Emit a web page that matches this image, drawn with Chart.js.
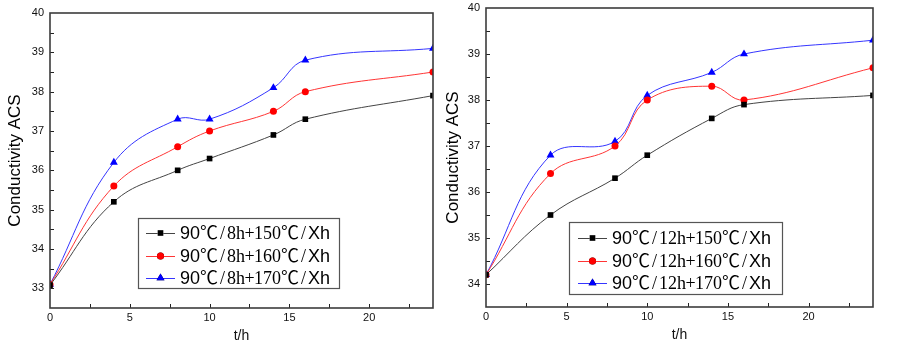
<!DOCTYPE html>
<html><head><meta charset="utf-8">
<script src="https://cdn.jsdelivr.net/npm/chart.js@4"></script>
<style>
html,body{margin:0;padding:0;background:#fff;}
#wrap{position:relative;width:903px;height:345px;overflow:hidden;background:#fff;}
.c{position:absolute;top:0;height:345px;}
</style></head><body>
<div id="wrap">
<div class="c" style="left:0;width:440px;"><canvas id="c1"></canvas></div>
<div class="c" style="left:440px;width:463px;"><canvas id="c2"></canvas></div>
</div>
<script>
// ---- data ----
const hours = [0, 4, 8, 10, 14, 16, 24];
const left150 = [33.08, 35.2, 36.0, 36.3, 36.9, 37.3, 37.9];
const left160 = [33.1, 35.6, 36.6, 37.0, 37.5, 38.0, 38.5];
const left170 = [33.1, 36.2, 37.3, 37.3, 38.1, 38.8, 39.1];
const right150 = [34.2, 35.5, 36.3, 36.8, 37.6, 37.9, 38.1];
const right160 = [34.2, 36.4, 37.0, 38.0, 38.3, 38.0, 38.7];
const right170 = [34.2, 36.8, 37.1, 38.1, 38.6, 39.0, 39.3];
const leftLabels = ['90℃/8h+150℃/Xh', '90℃/8h+160℃/Xh', '90℃/8h+170℃/Xh'];
const rightLabels = ['90℃/12h+150℃/Xh', '90℃/12h+160℃/Xh', '90℃/12h+170℃/Xh'];
const xTickLabels = [0, 5, 10, 15, 20];
const leftYTickLabels = [33, 34, 35, 36, 37, 38, 39, 40];
const rightYTickLabels = [34, 35, 36, 37, 38, 39, 40];
const xTitle = 't/h';
const yTitle = 'Conductivity ACS';

const lineColors = ['#444444', '#ff3535', '#3535ff'];
const markColors = ['#000000', '#ff0000', '#0000ff'];
const markStyles = ['rect', 'circle', 'triangle'];
const markRadius = [4, 3.5, 4.6];

const SANS = '"Liberation Sans", Arial, sans-serif';
const SERIF = '"Liberation Serif", "Noto Sans CJK SC", serif';

// inward ticks + boxed legend plugin
const decor = {
  id: 'decor',
  afterDatasetsDraw(chart, args, opts) {
    const ctx = chart.ctx, a = chart.chartArea;
    const xs = chart.scales.x, ys = chart.scales.y;
    ctx.save();
    ctx.strokeStyle = '#222';
    ctx.lineWidth = 1;
    ctx.beginPath();
    for (let v = xs.min + 2.5; v <= xs.max - 0.5; v += 2.5) {
      const px = Math.round(xs.getPixelForValue(v)) + 0.5;
      ctx.moveTo(px, a.bottom); ctx.lineTo(px, a.bottom - 4);
    }
    for (let v = ys.min + 0.5; v <= ys.max - 0.25; v += 0.5) {
      const py = Math.round(ys.getPixelForValue(v)) + 0.5;
      ctx.moveTo(a.left, py); ctx.lineTo(a.left + 4, py);
    }
    ctx.stroke();
    // frame
    ctx.strokeStyle = '#3c3c3c';
    ctx.lineWidth = 1.6;
    ctx.strokeRect(a.left, a.top, a.right - a.left, a.bottom - a.top);

    // legend
    const L = opts.box;
    ctx.fillStyle = '#fff';
    ctx.fillRect(L.x, L.y, L.w, L.h);
    ctx.strokeStyle = '#555';
    ctx.lineWidth = 1.2;
    ctx.strokeRect(L.x + 0.5, L.y + 0.5, L.w, L.h);
    chart.data.datasets.forEach((ds, i) => {
      const cy = L.rows[i];
      ctx.strokeStyle = ds.borderColor;
      ctx.lineWidth = 1;
      ctx.beginPath();
      ctx.moveTo(L.lx0, cy + 0.5); ctx.lineTo(L.lx1, cy + 0.5);
      ctx.stroke();
      Chart.helpers.drawPoint(ctx, {pointStyle: ds.pointStyle, radius: ds.pointRadius, borderWidth: 0}, (L.lx0 + L.lx1) / 2, cy);
      ctx.fillStyle = ds.pointBackgroundColor;
      ctx.fill();
      // mixed-font text: sans digits, SimSun-like half/full-width serif middle, sans "Xh"
      const m = ds.label.match(/^(\d+)(.*\/)(Xh)$/);
      const parts = m ? [[m[1], SANS, false], [m[2], SERIF, true], [m[3], SANS, false]] : [[ds.label, SANS, false]];
      let x = L.tx;
      ctx.fillStyle = '#000';
      ctx.textBaseline = 'middle';
      parts.forEach(([t, f, cell]) => {
        ctx.font = L.fs + 'px ' + f;
        if (!cell) {
          ctx.textAlign = 'left';
          ctx.fillText(t, x, cy + 1);
          x += ctx.measureText(t).width;
        } else {
          ctx.textAlign = 'center';
          for (const ch of t) {
            const adv = ch === '℃' ? L.fs : L.fs / 2;
            ctx.fillText(ch, x + adv / 2, cy + 1);
            x += adv;
          }
        }
      });
    });
    ctx.restore();
  }
};

function makeChart(id, series, labels, yMin, yLabels, pad, yWidth, titlePad, box) {
  const datasets = series.map((s, i) => ({
    label: labels[i],
    data: hours.map((h, k) => ({x: h, y: s[k]})),
    borderColor: lineColors[i],
    borderWidth: 1,
    pointStyle: markStyles[i],
    pointRadius: markRadius[i],
    pointBackgroundColor: markColors[i],
    pointBorderColor: markColors[i],
    pointBorderWidth: 0,
    tension: 0.4,
    fill: false
  }));
  return new Chart(document.getElementById(id), {
    type: 'line',
    data: {datasets},
    plugins: [decor],
    options: {
      responsive: true,
      maintainAspectRatio: false,
      animation: false,
      events: [],
      layout: {padding: pad},
      plugins: {legend: {display: false}, tooltip: {enabled: false}, decor: {box}},
      scales: {
        x: {
          type: 'linear', min: 0, max: 24,
          grid: {display: false, drawTicks: false},
          border: {display: false},
          ticks: {
            stepSize: 2.5, includeBounds: false, autoSkip: false, maxRotation: 0,
            padding: 3, color: '#111',
            font: {family: SANS, size: 11},
            callback: v => xTickLabels.includes(v) ? String(v) : ''
          },
          title: {display: true, text: xTitle, color: '#111', font: {family: SANS, size: 14}, padding: {top: 1, bottom: 0}}
        },
        y: {
          min: yMin, max: 40,
          afterFit: s => { s.width = yWidth; s.paddingTop = 0; s.paddingBottom = 0; },
          grid: {display: false, drawTicks: false},
          border: {display: false},
          ticks: {
            stepSize: 0.5, autoSkip: false, padding: 6, color: '#111',
            font: {family: SANS, size: 11},
            callback: v => yLabels.includes(v) ? String(v) : ''
          },
          title: {display: true, text: yTitle, color: '#000', font: {family: SANS, size: 17}, padding: {top: titlePad, bottom: 0}}
        }
      }
    }
  });
}

makeChart('c1', [left150, left160, left170], leftLabels, 32.5, leftYTickLabels,
  {left: 0, right: 7, top: 13, bottom: 0}, 50, 5,
  {x: 138, y: 218, w: 201, h: 70, rows: [233, 256, 278], lx0: 146, lx1: 175, tx: 180, fs: 18});
makeChart('c2', [right150, right160, right170], rightLabels, 33.5, rightYTickLabels,
  {left: 0, right: 30, top: 8, bottom: 1}, 46, 3,
  {x: 129, y: 222, w: 213, h: 72, rows: [238, 261, 283], lx0: 138, lx1: 167, tx: 172, fs: 18});
</script>
</body></html>
